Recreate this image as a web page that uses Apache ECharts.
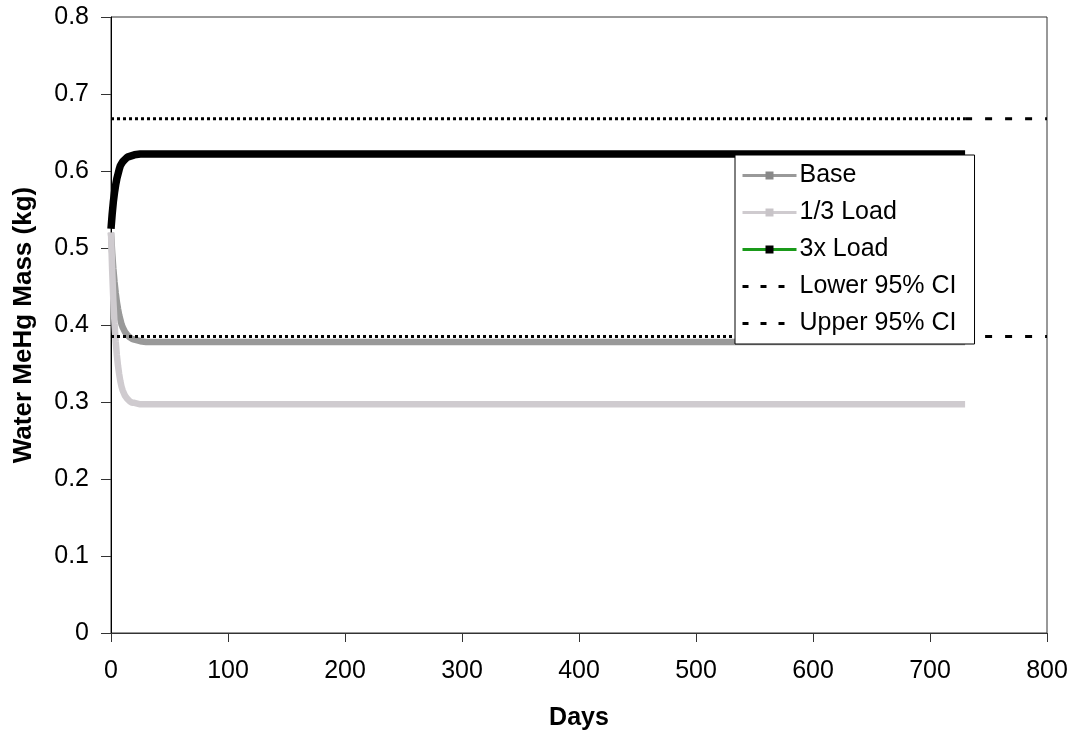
<!DOCTYPE html>
<html>
<head>
<meta charset="utf-8">
<script src="https://cdn.jsdelivr.net/npm/echarts@6/dist/echarts.min.js"></script>
<style>
    html, body { margin: 0; padding: 0; background: #fff; }
    #chart { width: 1075px; height: 740px; }
</style>
</head>
<body>
<div id="chart"></div>
<script>
// days of the simulation
var days = [0, 1, 2, 3, 4, 5, 6, 7, 8, 9, 10, 12, 14, 16, 18, 20, 25, 30, 40, 60, 100, 200, 300, 400, 500, 600, 700, 730];
// water MeHg mass (kg)
var baseMass = [0.520, 0.494, 0.473, 0.456, 0.442, 0.430, 0.421, 0.413, 0.407, 0.401, 0.397, 0.391, 0.387, 0.384, 0.382, 0.381, 0.379, 0.378, 0.378, 0.378, 0.378, 0.378, 0.378, 0.378, 0.378, 0.378, 0.378, 0.378];
var thirdLoadMass = [0.520, 0.471, 0.432, 0.402, 0.379, 0.361, 0.347, 0.336, 0.327, 0.320, 0.315, 0.308, 0.304, 0.301, 0.299, 0.299, 0.297, 0.297, 0.297, 0.297, 0.297, 0.297, 0.297, 0.297, 0.297, 0.297, 0.297, 0.297];
var tripleLoadMass = [0.525, 0.544, 0.560, 0.572, 0.582, 0.590, 0.596, 0.602, 0.607, 0.609, 0.612, 0.615, 0.618, 0.619, 0.620, 0.621, 0.622, 0.622, 0.622, 0.622, 0.622, 0.622, 0.622, 0.622, 0.622, 0.622, 0.622, 0.622];
// confidence limits, drawn over the run and then extended to the axis end
var ciDays = [0, 730];
var ciExtDays = [730, 800];
var lowerCI = 0.385;
var upperCI = 0.668;

function pairs(xs, ys) {
    var out = [];
    for (var i = 0; i < xs.length; i++) {
        out.push([xs[i], ys[i]]);
    }
    return out;
}
function flat(xs, v) {
    var out = [];
    for (var i = 0; i < xs.length; i++) {
        out.push([xs[i], v]);
    }
    return out;
}

var font = "'Liberation Sans', Arial, sans-serif";
var dotted = {color: "#000", width: 3, type: [3, 3]};
var dashed = {color: "#000", width: 3, type: [7, 13]};
// the CI legend icons are dashes only, no marker
var noMarker = {color: "rgba(0,0,0,0)", borderWidth: 0, opacity: 0};

var option = {
    animation: false,
    grid: {
        left: 111,
        right: 28,
        top: 17,
        bottom: 107,
        show: true,
        borderColor: "#333",
        borderWidth: 1
    },
    legend: {
        orient: "vertical",
        left: 735,
        top: 155,
        padding: [8, 18, 8, 6],
        itemGap: 12,
        itemWidth: 54,
        itemHeight: 10,
        backgroundColor: "#fff",
        borderColor: "#000",
        borderWidth: 1,
        textStyle: {fontFamily: font, fontSize: 25, color: "#000", padding: [0, 0, 0, -2]},
        data: [
            {name: "Base", lineStyle: {width: 3, color: "#999"}, itemStyle: {color: "#888"}},
            {name: "1/3 Load", lineStyle: {width: 3, color: "#cfcbcf"}, itemStyle: {color: "#c8c4c8"}},
            {name: "3x Load", lineStyle: {width: 3, color: "#1a9a1a"}, itemStyle: {color: "#000"}},
            {name: "Lower 95% CI", lineStyle: {width: 3, color: "#000", type: [6, 12]}, itemStyle: noMarker},
            {name: "Upper 95% CI", lineStyle: {width: 3, color: "#000", type: [6, 12]}, itemStyle: noMarker}
        ]
    },
    xAxis: {
        type: "value",
        min: 0,
        max: 800,
        interval: 100,
        name: "Days",
        nameLocation: "middle",
        nameGap: 73,
        nameTextStyle: {fontFamily: font, fontSize: 25, fontWeight: "bold", color: "#000"},
        axisLine: {lineStyle: {color: "#333", width: 1}},
        axisTick: {length: 9, lineStyle: {color: "#333"}},
        axisLabel: {fontFamily: font, fontSize: 25, color: "#000", margin: 26},
        splitLine: {show: false}
    },
    yAxis: {
        type: "value",
        min: 0,
        max: 0.8,
        interval: 0.1,
        name: "Water MeHg Mass (kg)",
        nameLocation: "middle",
        nameGap: 74,
        nameTextStyle: {fontFamily: font, fontSize: 26, fontWeight: "bold", color: "#000"},
        axisLine: {show: true, lineStyle: {color: "#000", width: 1}},
        axisTick: {show: true, length: 10, lineStyle: {color: "#333"}},
        axisLabel: {fontFamily: font, fontSize: 25, color: "#000", margin: 22},
        splitLine: {show: false}
    },
    series: [
        {
            name: "Base",
            type: "line",
            symbol: "rect",
            symbolSize: 8,
            showSymbol: false,
            itemStyle: {color: "#888"},
            lineStyle: {color: "#999", width: 6.5},
            data: pairs(days, baseMass)
        },
        {
            name: "1/3 Load",
            type: "line",
            symbol: "rect",
            symbolSize: 8,
            showSymbol: false,
            itemStyle: {color: "#c8c4c8"},
            lineStyle: {color: "#cfcbcf", width: 6.5},
            data: pairs(days, thirdLoadMass)
        },
        {
            name: "3x Load",
            type: "line",
            symbol: "rect",
            symbolSize: 8,
            showSymbol: false,
            itemStyle: {color: "#000"},
            lineStyle: {color: "#000", width: 7.5},
            data: pairs(days, tripleLoadMass)
        },
        {
            name: "Lower 95% CI",
            type: "line",
            symbol: "none",
            itemStyle: {color: "#000"},
            lineStyle: dotted,
            data: flat(ciDays, lowerCI)
        },
        {
            name: "Lower 95% CI",
            type: "line",
            symbol: "none",
            itemStyle: {color: "#000"},
            lineStyle: dashed,
            data: flat(ciExtDays, lowerCI)
        },
        {
            name: "Upper 95% CI",
            type: "line",
            symbol: "none",
            itemStyle: {color: "#000"},
            lineStyle: dotted,
            data: flat(ciDays, upperCI)
        },
        {
            name: "Upper 95% CI",
            type: "line",
            symbol: "none",
            itemStyle: {color: "#000"},
            lineStyle: dashed,
            data: flat(ciExtDays, upperCI)
        }
    ]
};

var chart = echarts.init(document.getElementById("chart"));
chart.setOption(option);
window.addEventListener("resize", function () {
    chart.resize();
});
</script>
</body>
</html>
